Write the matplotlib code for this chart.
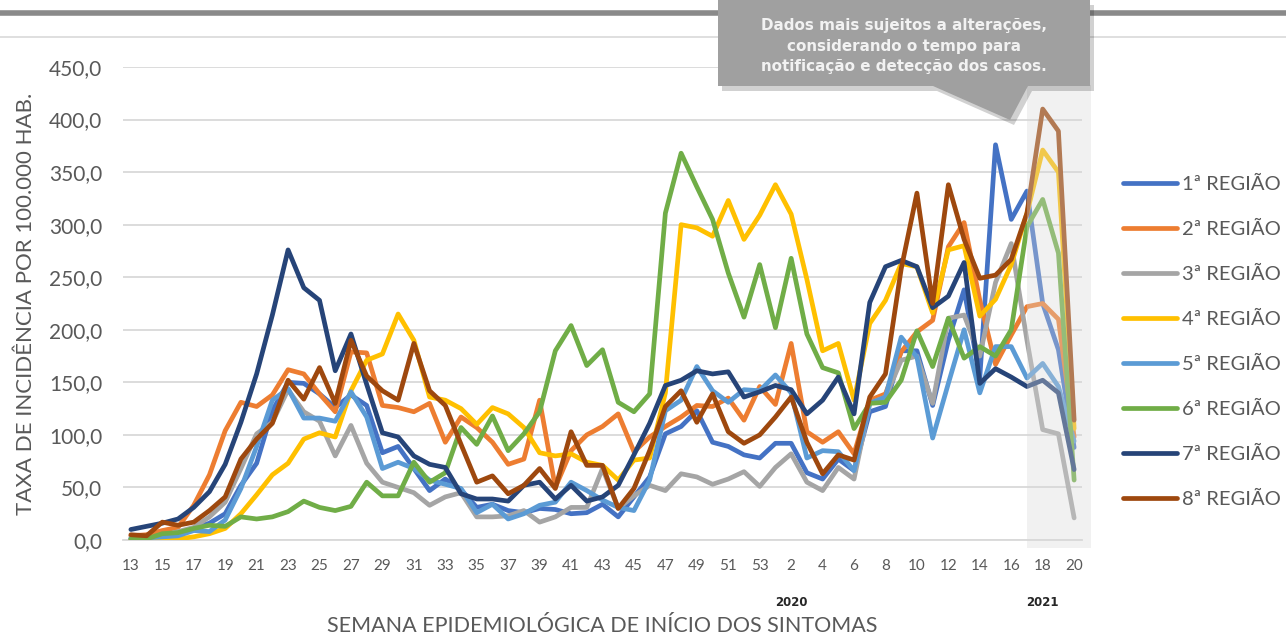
import matplotlib
matplotlib.use("Agg")
import matplotlib.pyplot as plt
from matplotlib.patches import Polygon, Rectangle
from matplotlib.lines import Line2D
from matplotlib.ticker import FuncFormatter, MultipleLocator

# ---------------- data ----------------
weeks = list(range(13, 54)) + list(range(1, 21))

regiao_1 = [1, 1, 3, 5, 11, 16, 25, 52, 73, 123, 150, 149, 139, 126, 138, 128, 83, 89, 68, 47,
            58, 48, 31, 34, 28, 26, 30, 29, 25, 26, 34, 22, 41, 60, 101, 108, 123, 93, 89, 81,
            78, 92, 92, 64, 58, 77, 66, 122, 127, 180, 180, 128, 190, 238, 155, 376, 305, 332, 225, 181,
            88]
regiao_2 = [4, 5, 9, 12, 33, 62, 104, 131, 127, 138, 162, 158, 139, 122, 179, 178, 128, 126, 122, 130,
            93, 117, 107, 93, 72, 77, 133, 50, 85, 100, 108, 120, 84, 98, 108, 117, 128, 127, 135, 114,
            146, 129, 187, 103, 93, 103, 82, 133, 139, 179, 198, 209, 279, 302, 228, 167, 195, 222, 225, 210,
            98]
regiao_3 = [1, 1, 4, 8, 12, 22, 36, 68, 101, 112, 143, 122, 113, 80, 109, 73, 55, 50, 45, 33,
            41, 45, 22, 22, 23, 28, 17, 22, 31, 31, 68, 30, 42, 52, 47, 63, 60, 53, 58, 65,
            51, 69, 82, 55, 47, 69, 58, 130, 136, 171, 175, 130, 211, 214, 175, 245, 282, 190, 105, 101,
            21]
regiao_4 = [0, 0, 1, 1, 3, 6, 11, 25, 43, 62, 73, 96, 102, 98, 142, 171, 177, 215, 190, 136,
            133, 125, 110, 126, 120, 107, 83, 80, 82, 74, 71, 57, 76, 78, 140, 300, 297, 289, 323, 286,
            309, 338, 310, 248, 180, 187, 133, 206, 228, 263, 260, 216, 276, 280, 213, 229, 262, 311, 371, 350,
            106]
regiao_5 = [2, 2, 3, 4, 9, 8, 19, 49, 89, 133, 144, 116, 116, 113, 141, 117, 68, 74, 68, 57,
            53, 49, 26, 34, 20, 25, 33, 36, 55, 47, 38, 31, 28, 57, 123, 133, 165, 142, 131, 143,
            142, 157, 140, 78, 85, 84, 66, 130, 136, 193, 174, 97, 149, 200, 140, 184, 184, 154, 168, 146,
            94]
regiao_6 = [1, 1, 6, 7, 11, 14, 13, 22, 20, 22, 27, 37, 31, 28, 32, 55, 42, 42, 74, 55,
            64, 107, 91, 118, 85, 101, 122, 180, 204, 166, 181, 131, 122, 139, 311, 368, 336, 305, 254, 212,
            262, 202, 268, 196, 164, 159, 106, 130, 131, 152, 199, 165, 211, 173, 184, 175, 200, 298, 324, 273,
            57]
regiao_7 = [10, 13, 16, 20, 31, 46, 72, 112, 158, 214, 276, 240, 228, 161, 196, 148, 102, 98, 80, 72,
            69, 44, 39, 39, 37, 52, 55, 39, 52, 37, 41, 52, 81, 111, 147, 152, 161, 158, 160, 136,
            141, 147, 143, 120, 133, 155, 120, 226, 260, 266, 260, 221, 232, 264, 149, 163, 155, 146, 152, 140,
            67]
regiao_8 = [5, 4, 17, 14, 17, 28, 41, 77, 96, 111, 152, 134, 164, 130, 190, 156, 142, 133, 187, 142,
            128, 91, 55, 61, 44, 52, 68, 49, 103, 71, 71, 30, 49, 85, 127, 142, 112, 139, 103, 92,
            100, 117, 136, 93, 63, 81, 76, 136, 158, 258, 330, 225, 338, 286, 249, 252, 267, 311, 410, 389,
            114]

series = [regiao_1, regiao_2, regiao_3, regiao_4, regiao_5, regiao_6, regiao_7, regiao_8]
labels = ["1ª REGIÃO", "2ª REGIÃO", "3ª REGIÃO", "4ª REGIÃO",
          "5ª REGIÃO", "6ª REGIÃO", "7ª REGIÃO", "8ª REGIÃO"]
colors = ["#4472C4", "#ED7D31", "#A5A5A5", "#FFC000",
          "#5B9BD5", "#70AD47", "#264478", "#9E480E"]

callout_text = "Dados mais sujeitos a alterações,\nconsiderando o tempo para\nnotificação e detecção dos casos."
year_labels = ["2020", "2021"]
year_label_weeks_idx = [42, 58]

# ---------------- figure ----------------
W, H = 1286, 638
fig = plt.figure(figsize=(W / 100, H / 100), dpi=100)
fig.patch.set_facecolor("white")

def fx(px):
    return px / W

def fy(py):
    return 1 - py / H

ax = fig.add_axes([fx(123), fy(540), fx(1082) - fx(123), fy(67) - fy(540)])
x = list(range(len(weeks)))

for vals, lab, col in zip(series, labels, colors):
    ax.plot(x, vals, color=col, lw=3.4, label=lab,
            solid_joinstyle="round", solid_capstyle="round", zorder=3)

ax.set_xlim(-0.5, len(weeks) - 0.5)
ax.set_ylim(0, 450)
ax.yaxis.set_major_locator(MultipleLocator(50))
ax.yaxis.set_major_formatter(FuncFormatter(lambda v, p: f"{v:.1f}".replace(".", ",")))
ax.grid(axis="y", color="#D9D9D9", lw=1.3, zorder=0)
ax.set_axisbelow(True)
for s in ["top", "right", "left"]:
    ax.spines[s].set_visible(False)
ax.spines["bottom"].set_color("#D9D9D9")
ax.spines["bottom"].set_linewidth(1.3)

ax.set_xticks(x[::2])
ax.set_xticklabels([str(w) for w in weeks[::2]])
ax.tick_params(axis="x", length=0, pad=14, labelsize=11, labelcolor="#595959")
ax.tick_params(axis="y", length=0, pad=15, labelsize=15, labelcolor="#595959")
for t in ax.get_xticklabels() + ax.get_yticklabels():
    t.set_fontfamily("Lato")

ax.set_ylabel("TAXA DE INCIDÊNCIA POR 100.000 HAB.", fontsize=16, color="#595959",
              family="Lato", labelpad=9)
ax.set_xlabel("SEMANA EPIDEMIOLÓGICA DE INÍCIO DOS SINTOMAS", fontsize=15.5, color="#595959",
              family="Lato", labelpad=31)

for lab, idx in zip(year_labels, year_label_weeks_idx):
    ax.annotate(lab, xy=(idx, 0), xycoords=("data", "axes fraction"),
                xytext=(0, -62), textcoords="offset pixels", ha="center", va="center",
                fontsize=8.5, fontweight="bold", color="#262626", family="DejaVu Sans")

leg = fig.legend(loc="center left", bbox_to_anchor=(fx(1113), fy(342)),
                 frameon=False, handlelength=2.7, handletextpad=0.25,
                 labelspacing=1.38, borderpad=0, prop={"family": "Lato", "size": 14.5})
for t in leg.get_texts():
    t.set_color("#595959")
for h in leg.get_lines():
    h.set_linewidth(3.4)

# shaded "recent data" zone, drawn over the lines
fig.patches.append(Rectangle((fx(1027), fy(548)), fx(1091) - fx(1027), fy(85) - fy(548),
                             transform=fig.transFigure, facecolor=(0.85, 0.85, 0.85),
                             alpha=0.35, edgecolor="none", zorder=2))

# header lines
fig.lines.append(Line2D([0, 1], [fy(13), fy(13)], transform=fig.transFigure,
                        color="#8a8a8a", lw=4, zorder=1))
fig.lines.append(Line2D([0, 1], [fy(37), fy(37)], transform=fig.transFigure,
                        color="#d9d9d9", lw=1.2, zorder=1))

# callout
pts = [(718, 0), (1090, 0), (1090, 86), (1028, 86), (1010, 120), (933, 86), (718, 86)]
shadow = [(fx(px + 4), fy(py + 5)) for px, py in pts]
fig.patches.append(Polygon(shadow, closed=True, transform=fig.transFigure,
                           facecolor="#000000", alpha=0.18, edgecolor="none", zorder=3))
fig.patches.append(Polygon([(fx(px), fy(py)) for px, py in pts], closed=True,
                           transform=fig.transFigure, facecolor="#a0a0a0",
                           edgecolor="none", zorder=4))
fig.text(fx(904), fy(46), callout_text, ha="center", va="center", fontsize=10.9,
         fontweight="bold", color="#f2f2f2", family="DejaVu Sans", linespacing=1.45, zorder=5)

fig.savefig("out.png", dpi=100)
